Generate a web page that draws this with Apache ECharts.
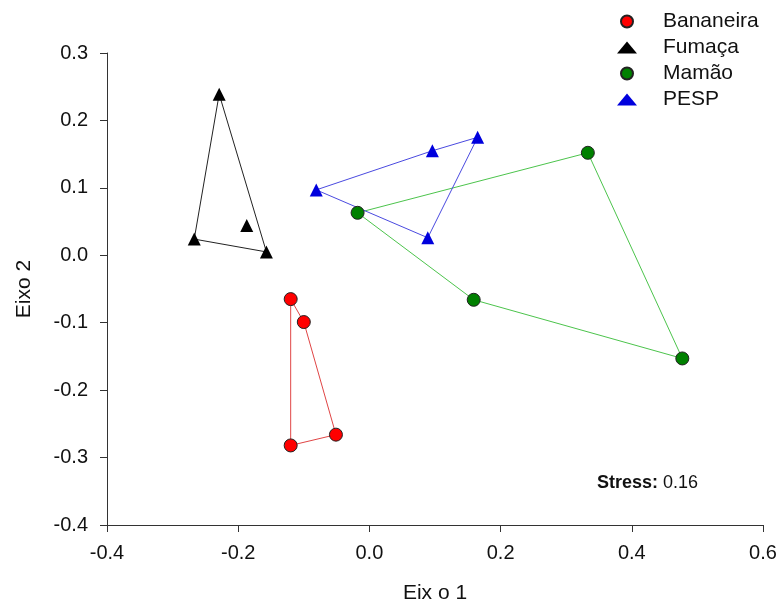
<!DOCTYPE html>
<html>
<head>
<meta charset="utf-8">
<script src="https://cdn.jsdelivr.net/npm/echarts@6/dist/echarts.min.js"></script>
<style>
	html, body { margin: 0; padding: 0; background: #fff; }
	#main { width: 779px; height: 605px; }
</style>
</head>
<body>
<div id="main"></div>
<script>
	// pontos NMDS por grupo [eixo1, eixo2]
	var bananeira = [[-0.120, -0.065], [-0.100, -0.099], [-0.051, -0.266], [-0.120, -0.282]];
	var fumaca = [[-0.229, 0.239], [-0.267, 0.024], [-0.187, 0.044], [-0.157, 0.005]];
	var mamao = [[-0.018, 0.063], [0.333, 0.152], [0.477, -0.153], [0.159, -0.066]];
	var pesp = [[-0.081, 0.097], [0.096, 0.155], [0.165, 0.175], [0.089, 0.026]];

	// ordem dos vertices do contorno (indices)
	var hullBananeira = [0, 1, 2, 3, 0];
	var hullFumaca = [0, 3, 1, 0];
	var hullMamao = [0, 1, 2, 3, 0];
	var hullPesp = [0, 1, 2, 3, 0];

	var xTicks = [-0.4, 0.6, 0.2];
	var yTicks = [-0.4, 0.3, 0.1];
	var stress = '0.16';

	function hull(pts, idx) {
		var out = [];
		for (var i = 0; i < idx.length; i++) {
			out.push(pts[idx[i]]);
		}
		return out;
	}

	function lineSeries(data, color) {
		return {
			type: 'line',
			data: data,
			showSymbol: false,
			symbol: 'none',
			silent: true,
			z: 1,
			lineStyle: { color: color, width: 1 }
		};
	}

	function scatterSeries(name, data, symbol, color, size) {
		return {
			name: name,
			type: 'scatter',
			data: data,
			symbol: symbol,
			symbolSize: size,
			z: 3,
			itemStyle: {
				color: color,
				borderColor: symbol == 'circle' ? '#222' : color,
				borderWidth: symbol == 'circle' ? 1 : 0,
				opacity: 1
			}
		};
	}

	var font = '"Liberation Sans", Arial, sans-serif';
	var chart = echarts.init(document.getElementById('main'));

	var option = {
		animation: false,
		backgroundColor: '#fff',
		grid: {
			left: 107,
			right: 16,
			top: 53,
			bottom: 80,
			outerBoundsMode: 'none'
		},
		legend: {
			orient: 'vertical',
			left: 612,
			top: 6,
			itemGap: 5,
			itemWidth: 20,
			itemHeight: 12,
			data: ['Bananeira', 'Fumaça', 'Mamão', 'PESP'],
			textStyle: { fontFamily: font, fontSize: 21, color: '#111', padding: [0, 0, 0, 21] }
		},
		xAxis: {
			type: 'value',
			min: xTicks[0],
			max: xTicks[1],
			interval: xTicks[2],
			name: 'Eix o 1',
			nameLocation: 'middle',
			nameGap: 58,
			nameTextStyle: { fontFamily: font, fontSize: 21, color: '#111' },
			axisLine: { show: true, onZero: false, lineStyle: { color: '#333', width: 1 } },
			axisTick: { show: true, inside: false, length: 7, lineStyle: { color: '#333' } },
			axisLabel: {
				fontFamily: font, fontSize: 20, color: '#111', margin: 18,
				formatter: function(v) { return v.toFixed(1); }
			},
			splitLine: { show: false }
		},
		yAxis: {
			type: 'value',
			min: yTicks[0],
			max: yTicks[1],
			interval: yTicks[2],
			name: 'Eixo 2',
			nameLocation: 'middle',
			nameGap: 72,
			nameTextStyle: { fontFamily: font, fontSize: 21, color: '#111' },
			axisLine: { show: true, onZero: false, lineStyle: { color: '#333', width: 1 } },
			axisTick: { show: true, inside: false, length: 7, lineStyle: { color: '#333' } },
			axisLabel: {
				fontFamily: font, fontSize: 20, color: '#111', margin: 19,
				formatter: function(v) { return v.toFixed(1); }
			},
			splitLine: { show: false }
		},
		graphic: [{
			type: 'text',
			left: 597,
			top: 474,
			style: {
				text: '{b|Stress:} ' + stress,
				font: '18px ' + font,
				fill: '#111',
				rich: {
					b: { fontWeight: 'bold', fontFamily: font, fontSize: 18, fill: '#111' }
				}
			}
		}],
		series: [
			lineSeries(hull(bananeira, hullBananeira), '#e04545'),
			lineSeries(hull(fumaca, hullFumaca), '#222'),
			lineSeries(hull(mamao, hullMamao), '#4cc44c'),
			lineSeries(hull(pesp, hullPesp), '#4a4ae0'),
			scatterSeries('Bananeira', bananeira, 'circle', '#ff0000', 13),
			scatterSeries('Fumaça', fumaca, 'triangle', '#000', 13),
			scatterSeries('Mamão', mamao, 'circle', '#008000', 13),
			scatterSeries('PESP', pesp, 'triangle', '#0000dd', 13)
		]
	};
	chart.setOption(option);
</script>
</body>
</html>
